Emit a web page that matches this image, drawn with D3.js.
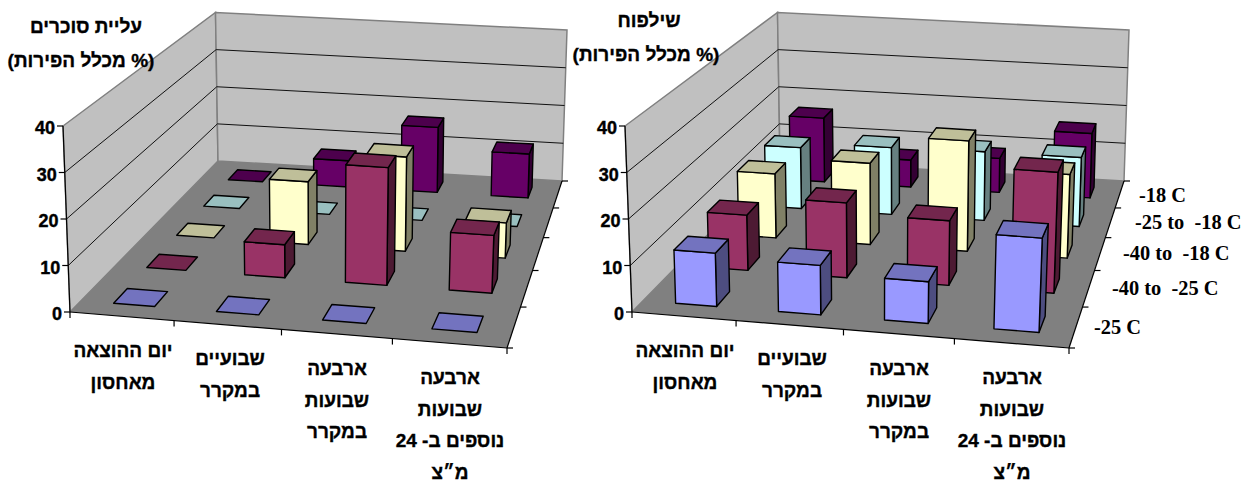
<!DOCTYPE html>
<html lang="he">
<head>
<meta charset="utf-8">
<script src="https://cdn.jsdelivr.net/npm/d3@7"></script>
<style>
  html, body { margin: 0; background: #fff; }
  svg { display: block; }
  .he { font-family: "Liberation Sans", Arial, sans-serif; font-weight: 700; direction: rtl; text-anchor: middle; stroke: #000; stroke-width: 0.35px; }
  .num { font-family: "Liberation Sans", Arial, sans-serif; font-weight: 700; font-size: 18px; text-anchor: end; stroke: #000; stroke-width: 0.4px; }
  .ser { font-family: "Liberation Serif", "Times New Roman", serif; font-weight: 700; font-size: 20.4px; white-space: pre; }
</style>
</head>
<body>
<svg id="chart" width="1258" height="482"></svg>
<script>
// Storage-time groups, from the front row to the back row.
const seriesNames = ["-25 C", "-40 to  -25 C", "-40 to  -18 C", "-25 to  -18 C", "-18 C"];
const seriesColors = ["#9999FF", "#993366", "#FFFFCC", "#CCFFFF", "#660066"];
const valueTicks = [0, 10, 20, 30, 40];
const categoryLabels = [
  ["יום ההוצאה", "מאחסון"],
  ["שבועיים", "במקרר"],
  ["ארבעה", "שבועות", "במקרר"],
  ["ארבעה", "שבועות", "נוספים ב- 24", "מ״צ"]
];

// Percent of fruit, one row per series, one column per sampling time.
const sugarRise = [
  [0, 0, 0, 0],
  [0, 7.5, 26.6, 13],
  [0, 14.9, 22.3, 8.3],
  [0, 0, 0, 0],
  [0, 6.8, 16.8, 11.3]
];
const pitting = [
  [11.6, 10.7, 9, 20.2],
  [12.6, 17, 14.6, 27.2],
  [15.3, 19.3, 26.1, 19.7],
  [15.2, 16.6, 17, 17],
  [16.6, 7, 8.8, 16.6]
];

const svg = d3.select("#chart");

// Maps the unit square onto a quadrilateral (perspective floor of the 3-D box).
function quadMap([p00, p10, p11, p01]) {
  const [x0, y0] = p00, [x1, y1] = p10, [x2, y2] = p11, [x3, y3] = p01;
  const dx1 = x1 - x2, dx2 = x3 - x2, sx = x0 - x1 + x2 - x3;
  const dy1 = y1 - y2, dy2 = y3 - y2, sy = y0 - y1 + y2 - y3;
  const den = dx1 * dy2 - dx2 * dy1;
  const g = (sx * dy2 - dx2 * sy) / den;
  const h = (dx1 * sy - sx * dy1) / den;
  const a = x1 - x0 + g * x1, b = x3 - x0 + h * x3;
  const d = y1 - y0 + g * y1, e = y3 - y0 + h * y3;
  return (u, v) => {
    const w = g * u + h * v + 1;
    return [(a * u + b * v + x0) / w, (d * u + e * v + y0) / w];
  };
}

function drawChart(values, dx, showSeries, titleLines) {
  const g = svg.append("g").attr("transform", `translate(${dx},0)`);

  const uScale = d3.scaleLinear().domain([0, categoryLabels.length]).range([0, 1]);
  const vScale = d3.scaleLinear().domain([0, seriesNames.length]).range([0, 1]);
  const hScale = d3.scaleLinear().domain([0, 40]).range([0, 1]);
  // Columns sit slightly right of centre near the value axis.
  const barOffset = d3.scaleLinear().domain([0, 3]).range([0.02, 0]);

  const floor = quadMap([[70, 312], [507, 348], [562, 181], [218, 161]]);
  const ceil = quadMap([[63, 126], [515, 158], [567, 30], [215.5, 12.5]]);

  // Projects category position c, series position s and value h to the page.
  const project = (c, s, h) => {
    const u = uScale(c), v = vScale(s), t = hScale(h);
    const a = floor(u, v), b = ceil(u, v);
    return [a[0] + (b[0] - a[0]) * t, a[1] + (b[1] - a[1]) * t];
  };
  const closed = d3.line().curve(d3.curveLinearClosed);
  const open = d3.line();
  const nCat = categoryLabels.length, nSer = seriesNames.length;

  // Walls and floor
  g.append("path").attr("d", closed([project(0, 0, 0), project(0, nSer, 0), project(0, nSer, 40), project(0, 0, 40)]))
    .attr("fill", "#C0C0C0").attr("stroke", "#808080").attr("stroke-width", 1.5);
  g.append("path").attr("d", closed([project(0, nSer, 0), project(nCat, nSer, 0), project(nCat, nSer, 40), project(0, nSer, 40)]))
    .attr("fill", "#C0C0C0").attr("stroke", "#808080").attr("stroke-width", 1.5);
  g.append("path").attr("d", closed([project(0, 0, 0), project(nCat, 0, 0), project(nCat, nSer, 0), project(0, nSer, 0)]))
    .attr("fill", "#808080");

  // Gridlines on both walls
  g.selectAll("path.grid").data(valueTicks.slice(1, -1)).join("path").attr("class", "grid")
    .attr("d", t => open([project(0, 0, t), project(0, nSer, t), project(nCat, nSer, t)]))
    .attr("fill", "none").attr("stroke", "#111").attr("stroke-width", 1);

  // Axis lines
  const axis = g.append("g").attr("fill", "none").attr("stroke", "#000").attr("stroke-width", 1.2);
  axis.append("path").attr("d", open([project(0, 0, 0), project(0, 0, 40)]));
  axis.append("path").attr("d", open([project(0, 0, 0), project(nCat, 0, 0)]));
  axis.append("path").attr("d", open([project(nCat, 0, 0), project(nCat, nSer, 0)]));
  valueTicks.forEach(t => {
    const [x, y] = project(0, 0, t);
    axis.append("path").attr("d", open([[x - 6, y], [x, y]]));
    g.append("text").attr("class", "num").attr("x", x - 8).attr("y", y + 8).text(t);
  });
  d3.range(nCat + 1).forEach(c => {
    const [x, y] = project(c, 0, 0);
    axis.append("path").attr("d", open([[x, y], [x, y + 6]]));
  });
  d3.range(nSer + 1).forEach(s => {
    const [x, y] = project(nCat, s, 0);
    axis.append("path").attr("d", open([[x, y], [x + 6, y]]));
  });

  // Bars, painted from the back row forward
  const bars = g.append("g").attr("stroke", "#000").attr("stroke-width", 1.4).attr("stroke-linejoin", "round");
  d3.range(nSer - 1, -1, -1).forEach(s => {
    const base = d3.color(seriesColors[s]);
    const shade = k => d3.rgb(base.r * k, base.g * k, base.b * k).formatHex();
    values[s].forEach((val, c) => {
      const off = barOffset(c);
      const x0 = c + 0.3 + off, x1 = c + 0.7 + off, z0 = s + 0.3, z1 = s + 0.7;
      if (val > 0) {
        bars.append("path").attr("fill", shade(0.5))
          .attr("d", closed([project(x1, z0, 0), project(x1, z1, 0), project(x1, z1, val), project(x1, z0, val)]));
        bars.append("path").attr("fill", seriesColors[s])
          .attr("d", closed([project(x0, z0, 0), project(x1, z0, 0), project(x1, z0, val), project(x0, z0, val)]));
      }
      bars.append("path").attr("fill", shade(0.75))
        .attr("d", closed([project(x0, z0, val), project(x1, z0, val), project(x1, z1, val), project(x0, z1, val)]));
    });
  });

  // Category labels
  const catX = [123, 230, 337, 450];
  const catY = [357, 365, 375, 384];
  categoryLabels.forEach((lines, c) => {
    lines.forEach((line, i) => {
      g.append("text").attr("class", "he").attr("font-size", 19)
        .attr("x", catX[c]).attr("y", catY[c] + i * 31.7).text(line);
    });
  });

  // Title above the value axis
  titleLines.forEach(t => {
    g.append("text").attr("class", "he").attr("font-size", 19).attr("x", t.x).attr("y", t.y).text(t.text);
  });

  // Series labels beside the depth axis
  if (showSeries) {
    const labelX = [532, 550, 561, 573, 577];
    const labelY = [334, 295, 260, 229, 202];
    seriesNames.forEach((name, s) => {
      g.append("text").attr("class", "ser").attr("x", labelX[s]).attr("y", labelY[s]).text(name);
    });
  }
}

drawChart(sugarRise, 0, false, [
  { text: "עליית סוכרים", x: 86, y: 33 },
  { text: "(% מכלל הפירות)", x: 81, y: 67 }
]);
drawChart(pitting, 562, true, [
  { text: "שילפוח", x: 87, y: 27 },
  { text: "(% מכלל הפירות)", x: 84, y: 61 }
]);
</script>
</body>
</html>
